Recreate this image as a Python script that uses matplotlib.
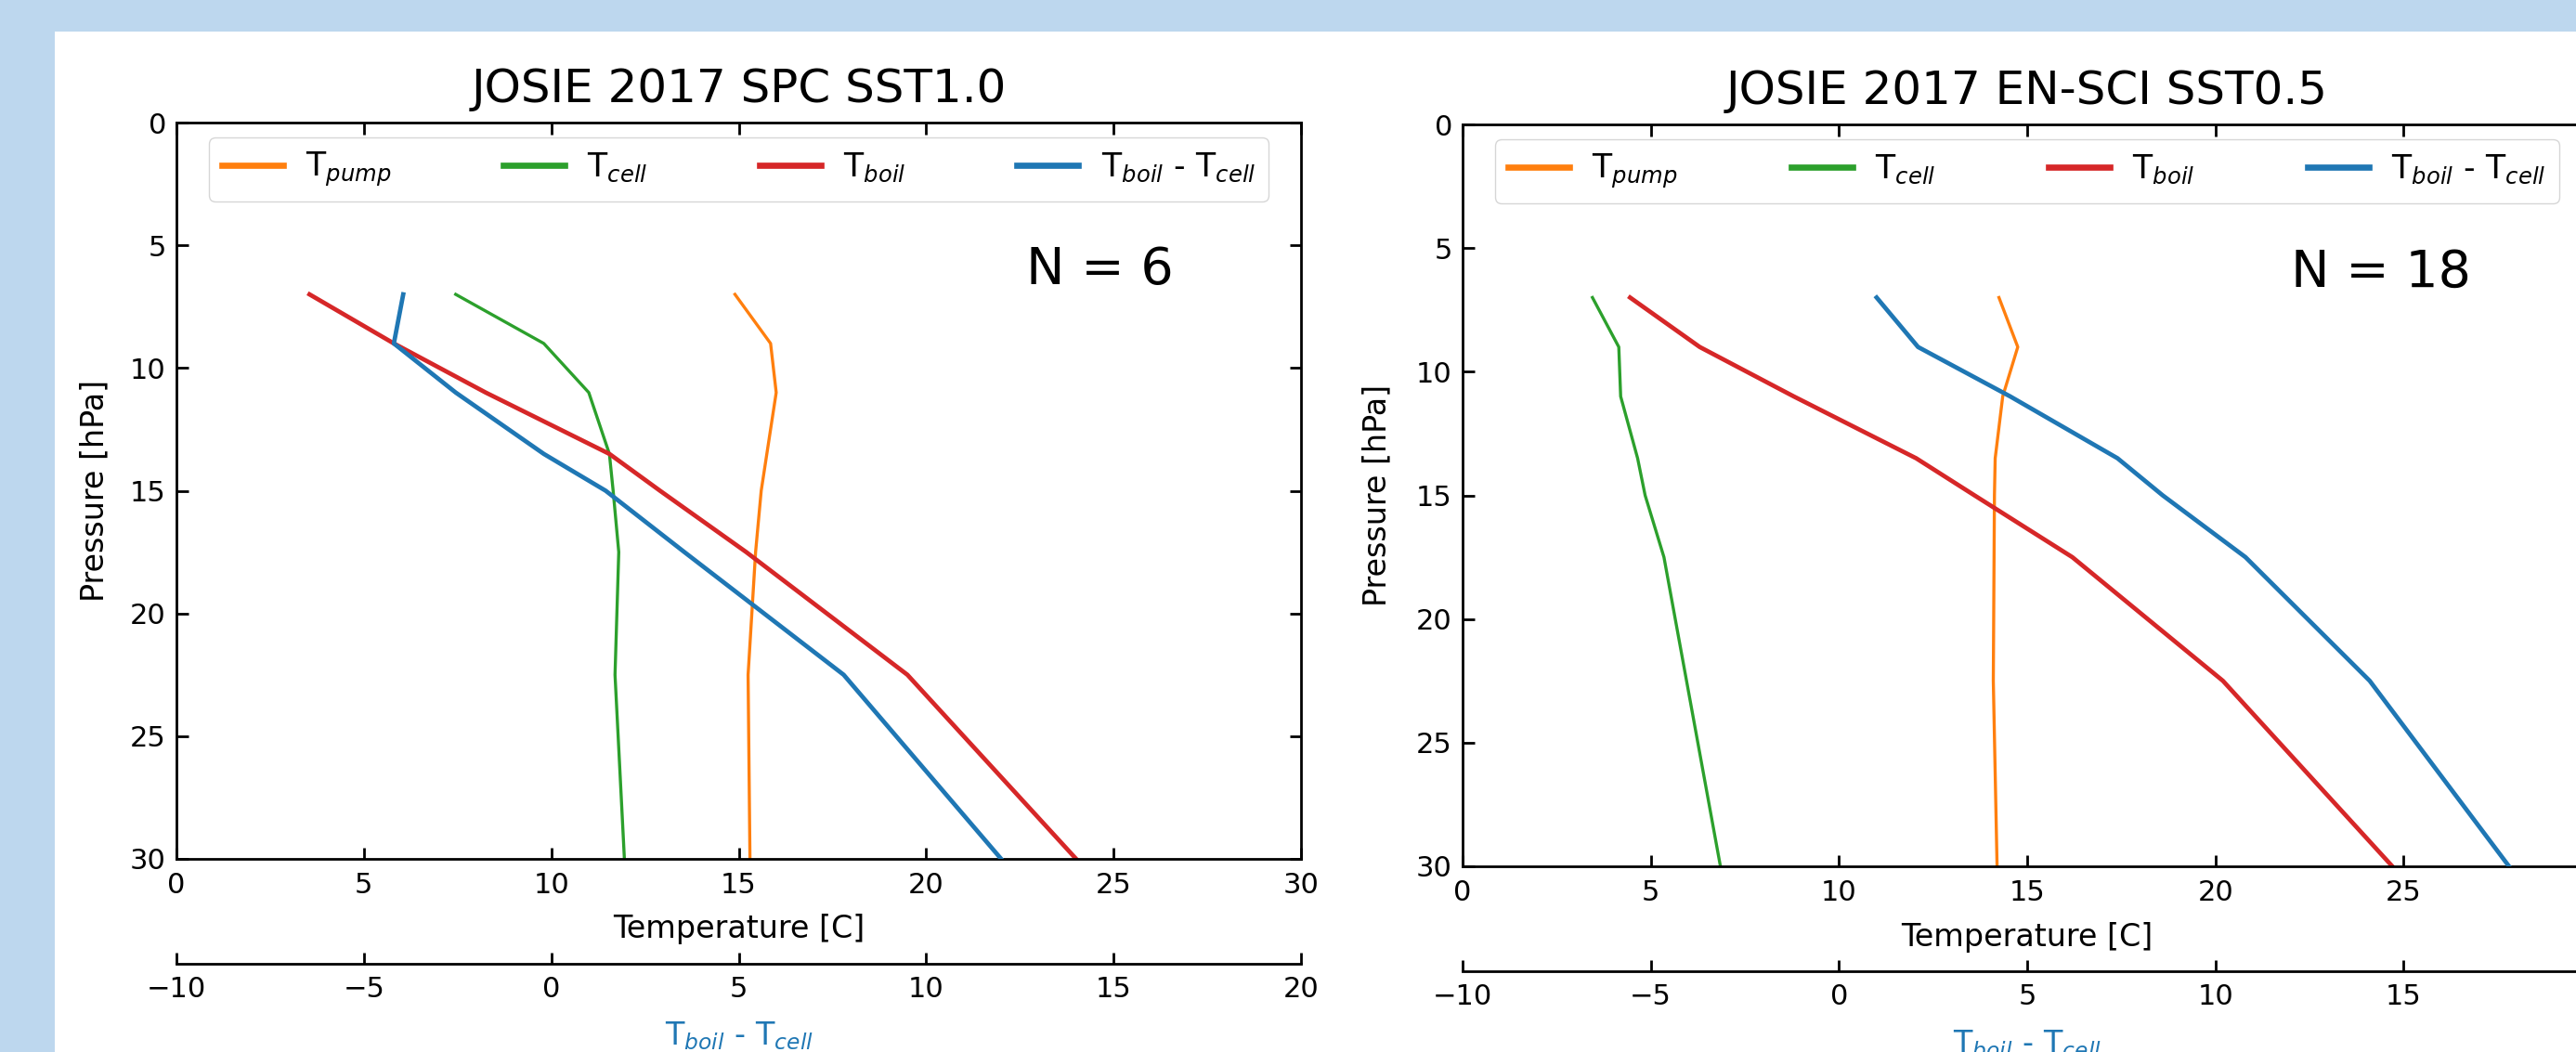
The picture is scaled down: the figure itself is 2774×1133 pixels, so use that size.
import matplotlib
matplotlib.use('Agg')
import matplotlib.pyplot as plt
from matplotlib.patches import Rectangle

# pressure levels [hPa]
pressure = [7, 9, 11, 13.5, 15, 17.5, 22.5, 30]

# JOSIE 2017 SPC SST1.0, N = 6
spc_pump = [14.9, 15.85, 16.0, 15.75, 15.6, 15.45, 15.25, 15.3]
spc_cell = [7.45, 9.8, 11.0, 11.55, 11.65, 11.8, 11.7, 11.95]
spc_boil = [3.55, 5.8, 8.25, 11.55, 12.9, 15.2, 19.5, 24.0]
spc_diff = [-3.95, -4.2, -2.55, -0.2, 1.45, 3.55, 7.8, 12.0]

# JOSIE 2017 EN-SCI SST0.5, N = 18
ensci_pump = [14.25, 14.75, 14.35, 14.15, 14.13, 14.12, 14.1, 14.2]
ensci_cell = [3.45, 4.15, 4.2, 4.65, 4.85, 5.35, 5.95, 6.85]
ensci_boil = [4.45, 6.3, 8.8, 12.05, 13.6, 16.2, 20.2, 24.7]
ensci_diff = [1.0, 2.1, 4.55, 7.4, 8.6, 10.8, 14.1, 17.8]

W, H = 2774, 1133
fig = plt.figure(figsize=(W / 100, H / 100), dpi=100, facecolor='#bdd7ee')
fig.add_artist(Rectangle((59 / W, 0), 1, 1 - 34 / H, transform=fig.transFigure,
                         facecolor='white', edgecolor='none', zorder=-1))


def panel(rect, title, pump, cell, boil, diff, ntext, nx, ylab_x):
    ax = fig.add_axes(rect)
    ax.plot(pump, pressure, color='#ff7f0e', lw=2.4, label='T$_{pump}$')
    ax.plot(cell, pressure, color='#2ca02c', lw=2.4, label='T$_{cell}$')
    ax.plot(boil, pressure, color='#d62728', lw=3.4, label='T$_{boil}$')
    ax.set_xlim(0, 30)
    ax.set_ylim(30, 0)
    ax.set_xticks(range(0, 31, 5))
    ax.set_yticks(range(0, 31, 5))

    # second x axis for the difference, below the first one
    ax2 = ax.twiny()
    ax2.plot(diff, pressure, color='#1f77b4', lw=3.4, label='T$_{boil}$ - T$_{cell}$')
    ax2.set_xlim(-10, 20)
    ax2.set_xticks(range(-10, 21, 5))
    ax2.xaxis.set_ticks_position('bottom')
    ax2.xaxis.set_label_position('bottom')
    ax2.spines['bottom'].set_position(('outward', 81))
    for s in ['top', 'left', 'right']:
        ax2.spines[s].set_visible(False)
    ax2.spines['bottom'].set_linewidth(2)
    ax2.tick_params(axis='x', direction='in', length=9, width=2, labelsize=22, pad=10,
                    top=False, bottom=True, labeltop=False, labelbottom=True)

    for s in ax.spines.values():
        s.set_linewidth(2)
    ax.tick_params(axis='x', direction='in', length=9, width=2, labelsize=22, pad=10,
                   top=True, bottom=True)
    ax.tick_params(axis='y', direction='in', length=9, width=2, labelsize=22, pad=8,
                   left=True, right=True)

    ax.set_title(title, fontsize=36, pad=16)
    ax.set_xlabel('Temperature [C]', fontsize=24)
    ax.xaxis.set_label_coords(0.5, -0.075)
    ax.set_ylabel('Pressure [hPa]', fontsize=24)
    ax.yaxis.set_label_coords(ylab_x, 0.5)
    ax2.set_xlabel('T$_{boil}$ - T$_{cell}$', fontsize=24, color='#1f77b4')
    ax2.xaxis.set_label_coords(0.5, -0.218)

    ax.text(nx, 6, ntext, fontsize=40, va='center')

    h1, l1 = ax.get_legend_handles_labels()
    h2, l2 = ax2.get_legend_handles_labels()
    leg = ax2.legend(h1 + h2, l1 + l2, loc='upper left', bbox_to_anchor=(0.029, 0.98, 0.942, 0),
                     mode='expand', ncol=4, fontsize=25, handlelength=1.9, handletextpad=0.7,
                     borderaxespad=0, borderpad=0.4)
    for line in leg.get_lines():
        line.set_linewidth(4.8)
    return ax


panel([190 / W, 1 - 925 / H, 1211 / W, 793 / H], 'JOSIE 2017 SPC SST1.0',
      spc_pump, spc_cell, spc_boil, spc_diff, 'N = 6', 22.67, -0.059)
panel([1575 / W, 1 - 933 / H, 1216 / W, 799 / H], 'JOSIE 2017 EN-SCI SST0.5',
      ensci_pump, ensci_cell, ensci_boil, ensci_diff, 'N = 18', 22.0, -0.062)

fig.savefig('out.png', dpi=100, facecolor=fig.get_facecolor())
